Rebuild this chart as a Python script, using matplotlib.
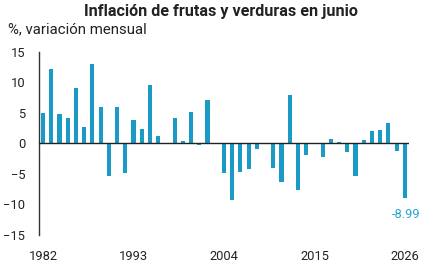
import matplotlib
matplotlib.use("Agg")
import matplotlib.pyplot as plt

years = list(range(1982, 2027))
values = [5.0, 12.2, 4.8, 4.1, 9.1, 2.6, 13.0, 5.9, -5.3, 6.0,
          -4.8, 3.85, 2.4, 9.5, 1.2, -0.1, 4.2, 0.4, 5.2, -0.3,
          7.1, -0.15, -4.8, -9.3, -4.7, -4.3, -0.9, 0.05, -4.0, -6.4,
          7.9, -7.7, -1.9, 0.05, -2.2, 0.66, 0.2, -1.5, -5.4, 0.6,
          2.0, 2.2, 3.3, -1.3, -8.99]
xticks = [1982, 1993, 2004, 2015, 2026]
yticks = [-15, -10, -5, 0, 5, 10, 15]
title = "Inflación de frutas y verduras en junio"
subtitle = "%, variación mensual"
last_label = "-8.99"

bar_color = "#1a9bc6"
font = ["Roboto", "DejaVu Sans"]
plt.rcParams["font.family"] = font

fig = plt.figure(figsize=(4.35, 2.72), dpi=100)
ax = fig.add_axes([39/435, 1-234.7/272, 370/435, (234.7-51.8)/272])
ax.bar(years, values, width=0.5, color=bar_color, zorder=2)
ax.axhline(0, color="#222222", lw=1.0, zorder=3)
ax.set_xlim(1981.5, 2026.5)
ax.set_ylim(-15, 15)
ax.set_xticks(xticks)
ax.set_yticks(yticks)
ax.tick_params(axis="both", length=0, labelsize=9.3, colors="#222222")
ax.tick_params(axis="x", pad=11)
ax.tick_params(axis="y", pad=10)
for s in ["top", "right", "bottom"]:
    ax.spines[s].set_visible(False)
ax.spines["left"].set_color("#333333")
ax.spines["left"].set_linewidth(1.0)

ax.annotate(last_label, xy=(years[-1], values[-1]), xytext=(1, -7),
            textcoords="offset points", ha="center", va="top",
            color="#2aa3d3", fontsize=9.3)

fig.text(0.507, 0.958, title, ha="center", va="center", fontsize=11.6,
         fontweight="bold", color="#222222")
fig.text(8/435, 1-29/272, subtitle, ha="left", va="center", fontsize=10.8,
         color="#222222")

fig.savefig("out.png", dpi=100)
